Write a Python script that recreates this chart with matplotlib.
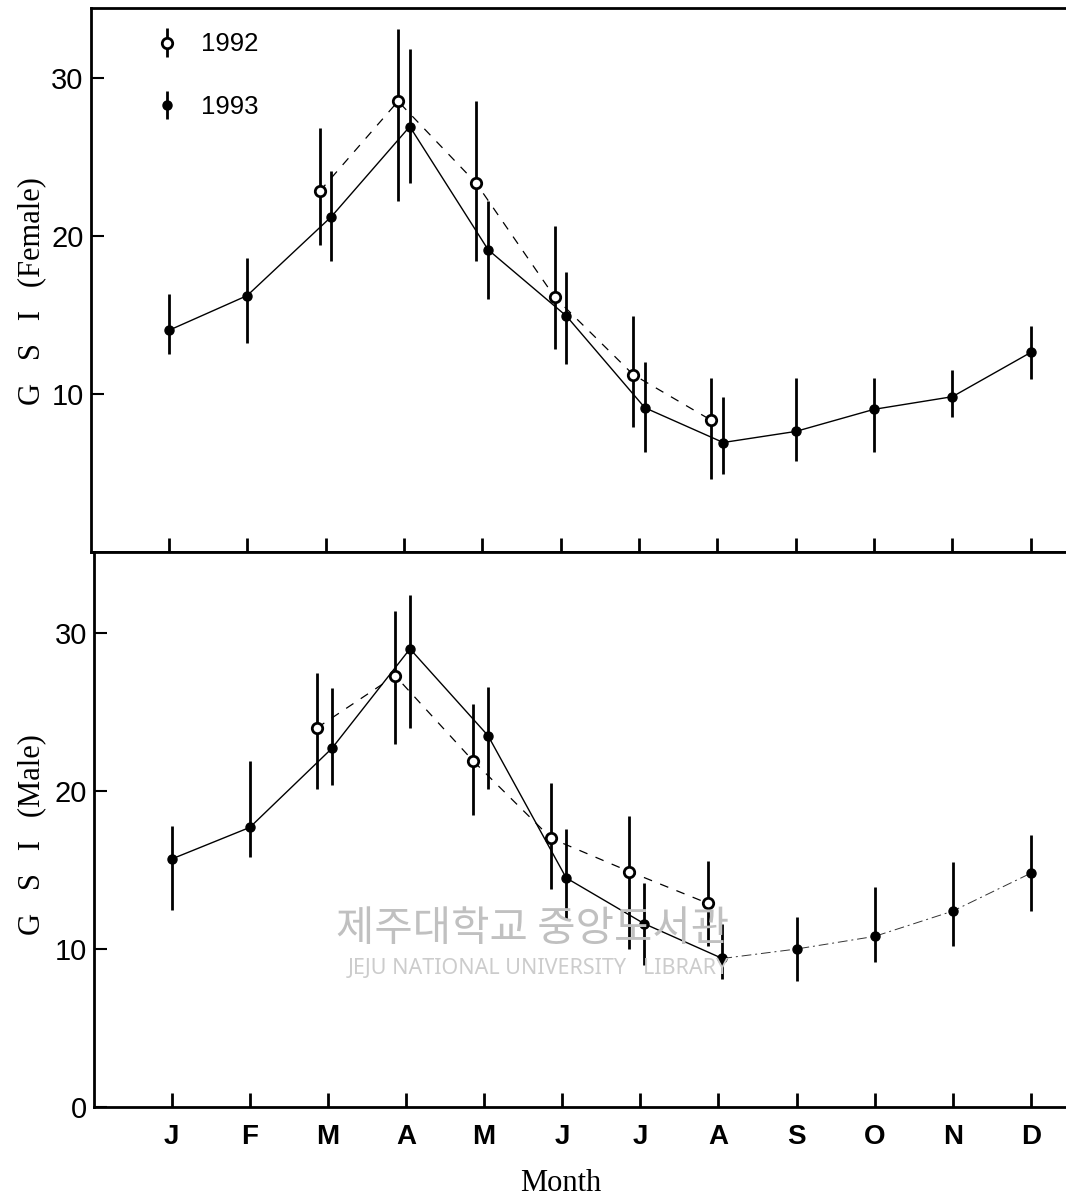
import matplotlib
matplotlib.use('Agg')
import matplotlib.pyplot as plt
from matplotlib.legend_handler import HandlerErrorbar
import numpy as np

plt.rcParams['font.family'] = ['Liberation Sans', 'DejaVu Sans']

# ---------------- data (GSI by month) ----------------
months = ['J', 'F', 'M', 'A', 'M', 'J', 'J', 'A', 'S', 'O', 'N', 'D']
idx92 = [2, 3, 4, 5, 6, 7]          # months sampled in 1992 (Mar-Aug)

# Female, 1993 (all months)
fem93    = [14.0, 16.2, 21.2, 26.9, 19.1, 14.9, 9.1, 6.9, 7.6, 9.0, 9.8, 12.6]
fem93_hi = [16.3, 18.6, 24.1, 31.8, 22.2, 17.7, 12.0, 9.8, 11.0, 11.0, 11.5, 14.3]
fem93_lo = [12.5, 13.2, 18.4, 23.3, 16.0, 11.9, 6.3, 4.9, 5.7, 6.3, 8.5, 10.9]
# Female, 1992
fem92    = [22.8, 28.5, 23.3, 16.1, 11.2, 8.3]
fem92_hi = [26.8, 33.1, 28.5, 20.6, 14.9, 11.0]
fem92_lo = [19.4, 22.2, 18.4, 12.8, 7.9, 4.6]

# Male, 1993
male93    = [15.7, 17.7, 22.7, 29.0, 23.5, 14.5, 11.6, 9.4, 10.0, 10.8, 12.4, 14.8]
male93_hi = [17.8, 21.9, 26.5, 32.4, 26.6, 17.6, 14.2, 11.6, 12.0, 13.9, 15.5, 17.2]
male93_lo = [12.5, 15.8, 20.4, 24.0, 20.1, 11.9, 9.0, 8.1, 8.0, 9.2, 10.2, 12.4]
# Male, 1992
male92    = [24.0, 27.3, 21.9, 17.0, 14.9, 12.9]
male92_hi = [27.5, 31.4, 25.5, 20.5, 18.4, 15.6]
male92_lo = [20.1, 23.0, 18.5, 13.8, 10.0, 10.2]

fig = plt.figure(figsize=(10.66, 12), dpi=100)
ax1 = fig.add_axes([0.0849, 0.5404, 0.9151, 0.4529])
ax2 = fig.add_axes([0.0879, 0.0775, 0.9121, 0.4629])


def draw_panel(ax, v93, lo93, hi93, v92, lo92, hi92, off92, off93, tail_dashed):
    x = np.arange(len(months), dtype=float)
    x93 = x.copy()
    x93[idx92] += off93
    x92 = np.array(idx92, dtype=float) + off92
    v93, lo93, hi93 = map(np.array, (v93, lo93, hi93))
    v92, lo92, hi92 = map(np.array, (v92, lo92, hi92))

    # connecting lines
    if tail_dashed:
        ax.plot(x93[:8], v93[:8], color='black', lw=1.0, zorder=2)
        ax.plot(x93[7:], v93[7:], color='#333333', lw=0.7,
                linestyle=(0, (10, 4, 2, 4)), zorder=2)
    else:
        ax.plot(x93, v93, color='black', lw=1.0, zorder=2)
    ax.plot(x92, v92, color='black', lw=0.9, linestyle=(0, (7, 7)), zorder=2)

    eb92 = ax.errorbar(x92, v92, yerr=[v92 - lo92, hi92 - v92], fmt='o',
                       ms=7.5, mfc='white', mec='black', mew=2.0,
                       ecolor='black', elinewidth=2.0, capsize=0, zorder=4)
    eb93 = ax.errorbar(x93, v93, yerr=[v93 - lo93, hi93 - v93], fmt='o',
                       ms=6.5, mfc='black', mec='black',
                       ecolor='black', elinewidth=2.0, capsize=0, zorder=4)

    ax.set_xlim(-1.0, 11.45)
    ax.set_xticks(x)
    ax.spines['right'].set_visible(False)
    for s in ('left', 'top', 'bottom'):
        ax.spines[s].set_linewidth(2.0)
    ax.tick_params(axis='y', direction='in', length=9, width=1.5,
                   labelsize=21, pad=5)
    ax.tick_params(axis='x', direction='in', length=10, width=2.0)
    return eb92, eb93


eb92, eb93 = draw_panel(ax1, fem93, fem93_lo, fem93_hi, fem92, fem92_lo, fem92_hi,
                        -0.075, 0.075, False)
draw_panel(ax2, male93, male93_lo, male93_hi, male92, male92_lo, male92_hi,
           -0.14, 0.05, True)

# top panel
ax1.set_ylim(0, 34.4)
ax1.set_yticks([10, 20, 30])
ax1.tick_params(axis='x', labelbottom=False)
ax1.set_ylabel('G   S   I   (Female)', family='Liberation Serif', fontsize=22, va='center')
ax1.yaxis.set_label_coords(-0.060, 0.48)
ax1.legend([eb92, eb93], ['1992', '1993'], loc='upper left',
           bbox_to_anchor=(0.068, 0.955), frameon=False, fontsize=18.5,
           handlelength=0.8, handletextpad=0.9, labelspacing=1.5,
           borderpad=0, borderaxespad=0, numpoints=1,
           handler_map={type(eb92): HandlerErrorbar(yerr_size=0.55)})

# bottom panel
ax2.set_ylim(0, 35.16)
ax2.set_yticks([0, 10, 20, 30])
ax2.set_xticklabels(months, fontsize=20, fontweight='bold')
ax2.tick_params(axis='x', pad=12)
ax2.set_ylabel('G   S   I   (Male)', family='Liberation Serif', fontsize=22, va='center')
ax2.yaxis.set_label_coords(-0.0635, 0.49)
ax2.set_xlabel('Month', family='Liberation Serif', fontsize=22, va='center')
ax2.xaxis.set_label_coords(0.48, -0.137)

# library watermark on the scan
fig.text(0.5, 0.225, '제주대학교 중앙도서관', family=['Noto Sans CJK KR'],
         fontsize=30, color='#c0c0c0', ha='center', va='center', zorder=0)
fig.text(0.505, 0.193, 'JEJU NATIONAL UNIVERSITY   LIBRARY', family=['Noto Sans'],
         fontsize=15.5, color='#cccccc', ha='center', va='center', zorder=0)

plt.savefig('out.png', dpi=100)
